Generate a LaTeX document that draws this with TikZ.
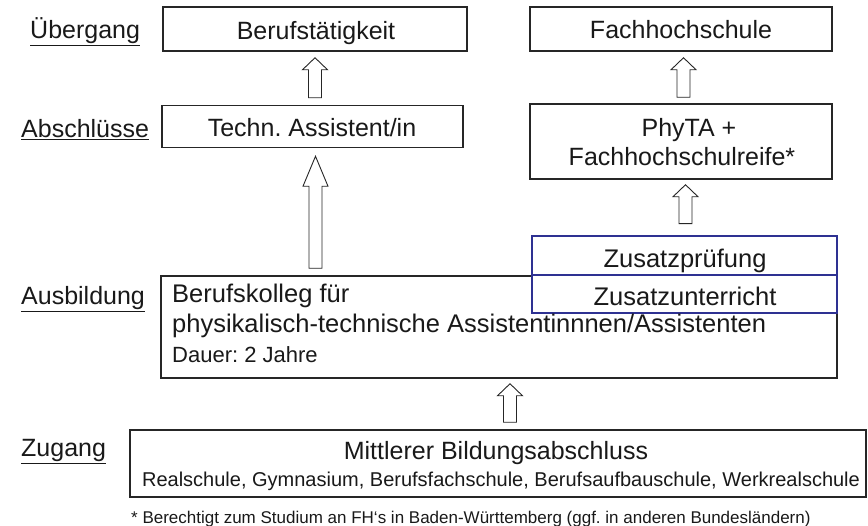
\documentclass[tikz,border=0pt]{standalone}
\usepackage{fontspec}
\setmainfont{Liberation Sans}
\usetikzlibrary{calc}
\definecolor{zblue}{RGB}{46,49,146}
\frenchspacing
\newcommand\fsz[1]{\fontsize{#1}{#1}\selectfont}
% #1 lower node, #2 upper node, #3 x, #4 tip gap, #5 bottom gap, #6 head length
\newcommand\blockup[6]{%
  \draw[blockarrow] let \p1=(#2.south), \p2=(#1.north) in
   (#3pt-6.5pt,\y2+#5pt) -- (#3pt+6.5pt,\y2+#5pt) -- (#3pt+6.5pt,\y1-#4pt-#6pt)
   -- (#3pt+12.5pt,\y1-#4pt-#6pt) -- (#3pt,\y1-#4pt) -- (#3pt-12.5pt,\y1-#4pt-#6pt)
   -- (#3pt-6.5pt,\y1-#4pt-#6pt) -- cycle;}
\tikzset{
  box/.style={draw=black!85, line width=1.5pt, inner sep=0pt, fill=white},
  bluebox/.style={draw=zblue, line width=2.6pt, inner sep=0pt, fill=white},
  big/.style={font=\fsz{25}, inner sep=0pt, text=black!90},
  lbl/.style={font=\fsz{25}, inner sep=0pt, anchor=base west, text=black!90},
  blockarrow/.style={draw=black!85, line width=0.9pt, fill=white, line join=miter},
}
\begin{document}
\begin{tikzpicture}[x=1pt,y=-1pt]
\useasboundingbox (0,0) rectangle (868,526);
% labels
\node[lbl] (lu) at (30,39) {\underline{Übergang}};
\node[lbl] (la) at (21,138) {\underline{Abschlüsse}};
\node[lbl] (lb) at (21,305) {\underline{Ausbildung}};
\node[lbl] (lz) at (21,457) {\underline{Zugang}};
% boxes
\node[box, minimum width=304, minimum height=44] (beruf) at (315,29) {};
\node[box, minimum width=302, minimum height=44] (fh) at (681,29) {};
\node[box, minimum width=301, minimum height=42] (techn) at (312.5,126.5) {};
\node[box, minimum width=302, minimum height=75] (phyta) at (681,141.5) {};
\node[box, minimum width=676, minimum height=102] (kolleg) at (499,327) {};
\node[bluebox, minimum width=305, minimum height=39] (zpruef) at (684.5,255.5) {};
\node[bluebox, minimum width=305, minimum height=38] (zunter) at (684.5,294) {};
\node[box, minimum width=736, minimum height=67] (mittl) at (498,463.5) {};
% texts
\node[big, anchor=base] (tberuf) at (316,40) {Berufstätigkeit};
\node[big, anchor=base] (tfh) at (681,39) {Fachhochschule};
\node[big, anchor=base] (ttechn) at (312,137) {Techn. Assistent/in};
\node[big, anchor=base] (tphy1) at (689,137) {PhyTA +};
\node[big, anchor=base] (tphy2) at (682,166) {Fachhochschulreife*};
\node[big, anchor=base, font=\fsz{25.5}] (tzp) at (685,268) {Zusatzprüfung};
\node[big, anchor=base, font=\fsz{25.5}] (tzu) at (685,306) {Zusatzunterricht};
\node[big, anchor=base west, font=\fsz{25.5}] (tk1) at (172,303) {Berufskolleg für};
\node[big, anchor=base west, font=\fsz{25.5}] (tk2) at (172,333) {physikalisch-technische Assistentinnnen/Assistenten};
\node[big, anchor=base west, font=\fsz{22}] (tk3) at (172,363) {Dauer: 2 Jahre};
\node[big, anchor=base] (tm1) at (496,460) {Mittlerer Bildungsabschluss};
\node[big, anchor=base, font=\fsz{20}] (tm2) at (501,487) {Realschule, Gymnasium, Berufsfachschule, Berufsaufbauschule, Werkrealschule};
\node[big, anchor=base west, font=\fsz{17}] (foot) at (131,523) {* Berechtigt zum Studium an FH‘s in Baden-Württemberg (ggf. in anderen Bundesländern)};
% arrows
\blockup{techn}{beruf}{315}{6}{7}{12}
\blockup{phyta}{fh}{683.5}{6}{6}{12}
\blockup{zpruef}{phyta}{685.5}{5}{11}{12}
\blockup{kolleg}{techn}{315.5}{8}{7}{30}
\blockup{mittl}{kolleg}{510}{5}{7}{12}
\end{tikzpicture}
\end{document}
